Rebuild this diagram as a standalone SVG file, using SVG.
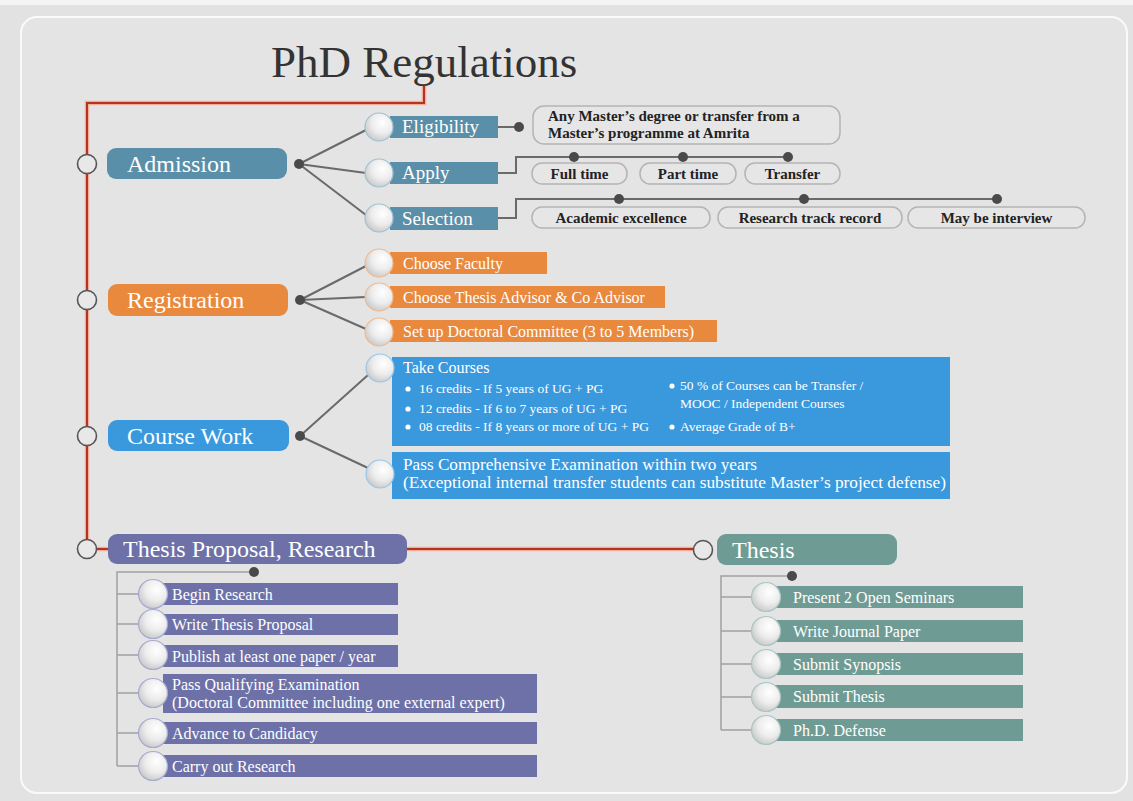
<svg xmlns="http://www.w3.org/2000/svg" width="1133" height="801" viewBox="0 0 1133 801">
<defs>
<radialGradient id="sph" cx="62%" cy="35%" r="75%">
<stop offset="0" stop-color="#ffffff"/>
<stop offset="0.5" stop-color="#ededed"/>
<stop offset="1" stop-color="#c2c2c2"/>
</radialGradient>
<style>
text{font-family:"Liberation Serif","Times New Roman",serif}
.top{font-size:24px;fill:#fff}
.sub{font-size:19px;fill:#fff}
.item{font-size:16px;fill:#fff}
.small{font-size:13.5px;fill:#fff}
.box{font-size:15px;font-weight:bold;fill:#222}
.boxr{fill:#e6e6e6;stroke:#b4b4b4;stroke-width:1.5}
.adm{fill:#5a8fa9}
.reg{fill:#e8893e}
.crs{fill:#3a98dd}
.tpr{fill:#6d71a8}
.ths{fill:#6f9b95}
.sp{fill:url(#sph);stroke-width:1.2}
.sadm{stroke:#9fc0d3}
.sreg{stroke:#f2b98c}
.scrs{stroke:#98c6ea}
.stpr{stroke:#a7aad0}
.sths{stroke:#a9c6c2}
.link{stroke:#6a6a6a;stroke-width:2;fill:none}
.thin{stroke:#a0a0a0;stroke-width:1.5;fill:none}
.dot{fill:#4a4a4a}
.ring{fill:#e8e8e8;stroke:#555;stroke-width:1.6}
.red1{stroke:#f0ad9c;stroke-width:4.5;fill:none}
.red2{stroke:#b3341f;stroke-width:2;fill:none}
</style>
</defs>
<rect width="1133" height="801" fill="#e2e2e2"/>
<rect width="1133" height="5" fill="#f4f4f4"/>
<rect x="21" y="17" width="1106" height="776" rx="16" fill="#e4e4e4" stroke="#fafafa" stroke-width="2"/>
<text x="271" y="77" font-size="45" fill="#333">PhD Regulations</text>

<g id="connectors">
<path class="red1" d="M424 86 V103 H87 V549 H108 M407 549 H703"/>
<path class="red2" d="M424 86 V103 H87 V549 H108 M407 549 H703"/>
<path class="link" d="M299 164 L366 130 M299 164 L366 173 M299 164 L366 215"/>
<path class="link" d="M498 127 H519 M498 173 H516 V157 H788 M498 218 H516 V199 H997"/>
<path class="link" d="M300 300 L366 266 M300 300 L366 297 M300 300 L366 329"/>
<path class="link" d="M300 436 L368 375 M300 436 L368 468"/>
<path class="thin" d="M254 572 H117 V766 M117 594 H140 M117 624 H140 M117 655 H140 M117 693 H140 M117 733 H140 M117 766 H140"/>
<path class="thin" d="M792 576 H721 V730 M721 597 H752 M721 631 H752 M721 664 H752 M721 697 H752 M721 730 H752"/>
<circle class="dot" cx="299" cy="164" r="5"/>
<circle class="dot" cx="519" cy="127" r="5"/>
<circle class="dot" cx="574" cy="157" r="5"/>
<circle class="dot" cx="683" cy="157" r="5"/>
<circle class="dot" cx="788" cy="157" r="5"/>
<circle class="dot" cx="619" cy="199" r="5"/>
<circle class="dot" cx="804" cy="199" r="5"/>
<circle class="dot" cx="997" cy="199" r="5"/>
<circle class="dot" cx="300" cy="300" r="5"/>
<circle class="dot" cx="300" cy="436" r="5"/>
<circle class="dot" cx="254" cy="572" r="5"/>
<circle class="dot" cx="792" cy="576" r="5"/>
<circle class="ring" cx="87" cy="164" r="9.5"/>
<circle class="ring" cx="87" cy="300" r="9.5"/>
<circle class="ring" cx="87" cy="436" r="9.5"/>
<circle class="ring" cx="87" cy="549" r="9.5"/>
<circle class="ring" cx="703" cy="550" r="9.5"/>
</g>

<g id="admission">
<rect class="adm" x="107" y="148" width="180" height="31" rx="9"/>
<text class="top" x="127" y="172">Admission</text>
</g>
<g id="eligibility">
<rect class="adm" x="390" y="116" width="108" height="22"/>
<circle class="sp sadm" cx="379" cy="127" r="14"/>
<text class="sub" x="402" y="133">Eligibility</text>
</g>
<g id="apply">
<rect class="adm" x="390" y="162" width="108" height="22"/>
<circle class="sp sadm" cx="379" cy="173" r="14"/>
<text class="sub" x="402" y="179">Apply</text>
</g>
<g id="selection">
<rect class="adm" x="390" y="207" width="108" height="23"/>
<circle class="sp sadm" cx="379" cy="218" r="14"/>
<text class="sub" x="402" y="225">Selection</text>
</g>
<g id="elig-detail">
<rect class="boxr" x="533" y="106" width="307" height="38" rx="11"/>
<text class="box" x="548" y="121">Any Master’s degree or transfer from a</text>
<text class="box" x="548" y="138">Master’s programme at Amrita</text>
</g>
<g id="fulltime">
<rect class="boxr" x="532" y="163" width="95" height="21" rx="10"/>
<text class="box" x="579.5" y="179" text-anchor="middle">Full time</text>
</g>
<g id="parttime">
<rect class="boxr" x="640" y="163" width="96" height="21" rx="10"/>
<text class="box" x="688" y="179" text-anchor="middle">Part time</text>
</g>
<g id="transfer">
<rect class="boxr" x="745" y="163" width="95" height="21" rx="10"/>
<text class="box" x="792.5" y="179" text-anchor="middle">Transfer</text>
</g>
<g id="academic">
<rect class="boxr" x="532" y="207" width="178" height="21" rx="10"/>
<text class="box" x="621" y="223" text-anchor="middle">Academic excellence</text>
</g>
<g id="research-track">
<rect class="boxr" x="718" y="207" width="184" height="21" rx="10"/>
<text class="box" x="810" y="223" text-anchor="middle">Research track record</text>
</g>
<g id="interview">
<rect class="boxr" x="908" y="207" width="177" height="21" rx="10"/>
<text class="box" x="996.5" y="223" text-anchor="middle">May be interview</text>
</g>

<g id="registration">
<rect class="reg" x="108" y="284" width="180" height="32" rx="9"/>
<text class="top" x="127" y="308">Registration</text>
</g>
<g id="faculty">
<rect class="reg" x="390" y="252" width="157" height="22"/>
<circle class="sp sreg" cx="379" cy="263" r="14"/>
<text class="item" x="403" y="268.5">Choose Faculty</text>
</g>
<g id="advisor">
<rect class="reg" x="390" y="286" width="275" height="22"/>
<circle class="sp sreg" cx="379" cy="297" r="14"/>
<text class="item" x="403" y="302.5">Choose Thesis Advisor &amp; Co Advisor</text>
</g>
<g id="committee">
<rect class="reg" x="390" y="320" width="327" height="22"/>
<circle class="sp sreg" cx="379" cy="332" r="14"/>
<text class="item" x="403" y="336.5">Set up Doctoral Committee (3 to 5 Members)</text>
</g>

<g id="coursework">
<rect class="crs" x="108" y="420" width="181" height="31" rx="9"/>
<text class="top" x="127" y="444">Course Work</text>
</g>
<g id="take-courses">
<rect class="crs" x="392" y="357" width="558" height="89"/>
<circle class="sp scrs" cx="380" cy="368" r="14"/>
<text class="item" x="403" y="373">Take Courses</text>
<circle fill="#fff" cx="408" cy="389" r="2.6"/>
<circle fill="#fff" cx="408" cy="409" r="2.6"/>
<circle fill="#fff" cx="408" cy="427" r="2.6"/>
<text class="small" x="419" y="393">16 credits - If 5 years of UG + PG</text>
<text class="small" x="419" y="413">12 credits - If 6 to 7 years of UG + PG</text>
<text class="small" x="419" y="431">08 credits - If 8 years or more of UG + PG</text>
<circle fill="#fff" cx="672" cy="386" r="2.6"/>
<circle fill="#fff" cx="672" cy="427" r="2.6"/>
<text class="small" x="680" y="390">50 % of Courses can be Transfer /</text>
<text class="small" x="680" y="408">MOOC / Independent Courses</text>
<text class="small" x="680" y="431">Average Grade of B+</text>
</g>
<g id="comprehensive">
<rect class="crs" x="392" y="452" width="558" height="47"/>
<circle class="sp scrs" cx="380" cy="474" r="14"/>
<text class="item" x="403" y="470" textLength="354" lengthAdjust="spacingAndGlyphs">Pass Comprehensive Examination within two years</text>
<text class="item" x="403" y="488" textLength="543" lengthAdjust="spacingAndGlyphs">(Exceptional internal transfer students can substitute Master’s project defense)</text>
</g>

<g id="thesis-proposal">
<rect class="tpr" x="108" y="534" width="299" height="30" rx="9"/>
<text class="top" x="123" y="557">Thesis Proposal, Research</text>
</g>
<g id="begin-research">
<rect class="tpr" x="163" y="583" width="235" height="22"/>
<circle class="sp stpr" cx="153" cy="594" r="14.5"/>
<text class="item" x="172" y="599.5">Begin Research</text>
</g>
<g id="write-proposal">
<rect class="tpr" x="163" y="614" width="235" height="21"/>
<circle class="sp stpr" cx="153" cy="624" r="14.5"/>
<text class="item" x="172" y="630">Write Thesis Proposal</text>
</g>
<g id="publish">
<rect class="tpr" x="163" y="645" width="235" height="22"/>
<circle class="sp stpr" cx="153" cy="655" r="14.5"/>
<text class="item" x="172" y="661.5">Publish at least one paper / year</text>
</g>
<g id="qualifying">
<rect class="tpr" x="163" y="674" width="374" height="39"/>
<circle class="sp stpr" cx="153" cy="693" r="14.5"/>
<text class="item" x="172" y="690">Pass Qualifying Examination</text>
<text class="item" x="172" y="708">(Doctoral Committee including one external expert)</text>
</g>
<g id="candidacy">
<rect class="tpr" x="163" y="722" width="374" height="22"/>
<circle class="sp stpr" cx="153" cy="733" r="14.5"/>
<text class="item" x="172" y="738.5">Advance to Candidacy</text>
</g>
<g id="carry-out">
<rect class="tpr" x="163" y="755" width="374" height="22"/>
<circle class="sp stpr" cx="153" cy="766" r="14.5"/>
<text class="item" x="172" y="771.5">Carry out Research</text>
</g>

<g id="thesis">
<rect class="ths" x="717" y="534" width="180" height="31" rx="9"/>
<text class="top" x="732" y="558">Thesis</text>
</g>
<g id="seminars">
<rect class="ths" x="770" y="586" width="253" height="22"/>
<circle class="sp sths" cx="766" cy="597" r="14.5"/>
<text class="item" x="793" y="602.5">Present 2 Open Seminars</text>
</g>
<g id="journal">
<rect class="ths" x="770" y="620" width="253" height="22"/>
<circle class="sp sths" cx="766" cy="631" r="14.5"/>
<text class="item" x="793" y="636.5">Write Journal Paper</text>
</g>
<g id="synopsis">
<rect class="ths" x="770" y="653" width="253" height="22"/>
<circle class="sp sths" cx="766" cy="664" r="14.5"/>
<text class="item" x="793" y="669.5">Submit Synopsis</text>
</g>
<g id="submit-thesis">
<rect class="ths" x="770" y="685" width="253" height="23"/>
<circle class="sp sths" cx="766" cy="697" r="14.5"/>
<text class="item" x="793" y="702">Submit Thesis</text>
</g>
<g id="defense">
<rect class="ths" x="770" y="719" width="253" height="22"/>
<circle class="sp sths" cx="766" cy="730" r="14.5"/>
<text class="item" x="793" y="735.5">Ph.D. Defense</text>
</g>
</svg>
